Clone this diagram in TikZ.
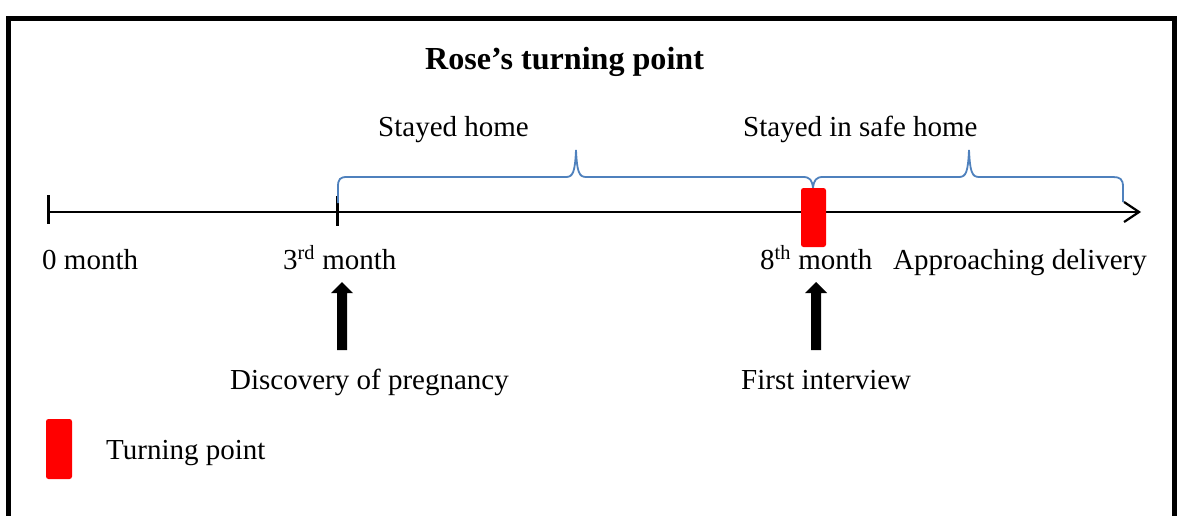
\documentclass[tikz,border=0pt]{standalone}
\usepackage{fontspec}
\setmainfont{Liberation Serif}
\usetikzlibrary{arrows.meta}
\definecolor{braceblue}{HTML}{4F81BD}
\begin{document}
\begin{tikzpicture}[x=1pt,y=-1pt,
  lbl/.style={anchor=base west,inner sep=0pt,font=\fontsize{29}{34}\selectfont},
  ttl/.style={anchor=base west,inner sep=0pt,font=\fontsize{32.1}{38}\selectfont\bfseries},
  tick/.style={line width=3pt},
  axisline/.style={line width=2.4pt,-{Straight Barb[length=15pt,width=20pt,line width=2.2pt]}},
  bracepath/.style={draw=braceblue,line width=1.8pt},
  turnbox/.style={fill=red,rounded corners=2.5pt},
  blockarrow/.style={fill=black}]
\useasboundingbox (0,0) rectangle (1177,515);
% frame
\draw[line width=5pt] (8.5,530) -- (8.5,18) -- (1174.5,18) -- (1174.5,530);

% title
\node[ttl] (title) at (425,69) {Rose’s turning point};

% time axis
\coordinate (t0) at (48,212);
\coordinate (tend) at (1141,212);
\draw[axisline] (t0) -- (tend);
\draw[tick] (48,195) -- (48,224);
\draw[tick] (337,196) -- (337,226);

% braces
\draw[bracepath] (338,203) -- (338,187) .. controls (338,179) and (340,177) .. (347,177)
  -- (566,177) .. controls (573,177) and (575,172) .. (576,150)
  .. controls (577,172) and (579,177) .. (586,177)
  -- (803,177) .. controls (810,177) and (812,180) .. (813,188);
\draw[bracepath] (813,188) .. controls (814,180) and (816,177) .. (823,177)
  -- (959,177) .. controls (966,177) and (968,172) .. (969,150)
  .. controls (970,172) and (972,177) .. (979,177)
  -- (1113,177) .. controls (1120,177) and (1123,179) .. (1123,187) -- (1123,202);

% turning point marker
\fill[turnbox] (801,188) rectangle (826,247);

% brace labels
\node[lbl] (home) at (378,136) {Stayed home};
\node[lbl] (safe) at (743,136) {Stayed in safe home};

% axis labels
\node[lbl] (m0) at (42,269) {0 month};
\node[lbl] (m3) at (283,269) {3\textsuperscript{rd} month};
\node[lbl] (m8) at (760,269) {8\textsuperscript{th} month};
\node[lbl] (deliv) at (893,269) {Approaching delivery};

% block arrows
\fill[blockarrow] (337,350) -- (337,293) -- (331,293) -- (342,282) -- (353,293) -- (347,293) -- (347,350) -- cycle;
\fill[blockarrow] (811,350) -- (811,293) -- (805,293) -- (816,282) -- (827,293) -- (821,293) -- (821,350) -- cycle;

% event labels
\node[lbl] (disc) at (230,389) {Discovery of pregnancy};
\node[lbl] (first) at (741,389) {First interview};

% legend
\fill[turnbox] (46,419) rectangle (72,479);
\node[lbl] (legend) at (106,459) {Turning point};
\end{tikzpicture}
\end{document}
